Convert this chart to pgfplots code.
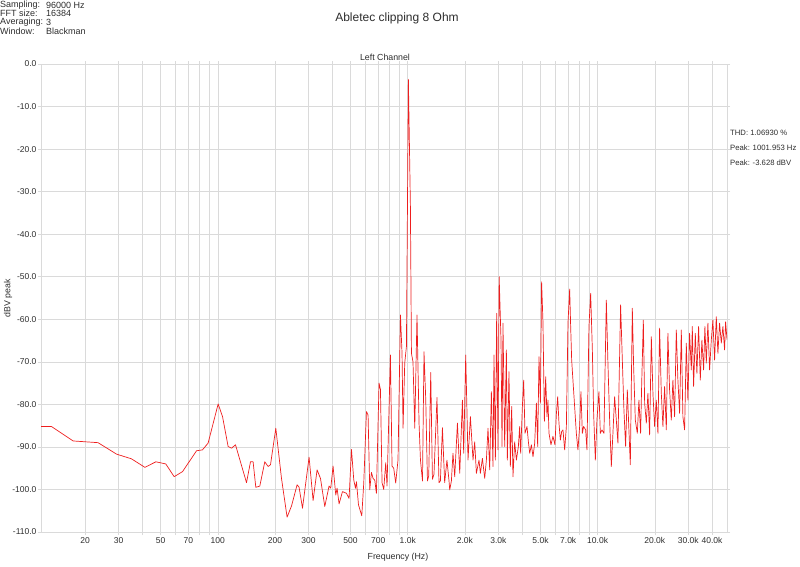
\documentclass[border=0pt]{standalone}
\usepackage{pgfplots}
\pgfplotsset{compat=1.18}
\usepackage{fontspec}
\setmainfont{Liberation Sans}
\definecolor{gridc}{RGB}{218,218,218}
\definecolor{linec}{RGB}{238,30,30}
\definecolor{txt}{RGB}{45,45,45}
\pgfplotstableread{
f db
11.72 -85.2
13.3 -85.2
17.3 -88.6
23.4 -89.0
29.3 -91.7
35.1 -92.8
41.3 -94.8
47.2 -93.5
53.2 -94.0
58.9 -97.0
65.2 -95.8
77.3 -90.9
83.0 -90.7
88.9 -89.1
100.4 -79.9
105.9 -82.9
113.3 -89.9
118.1 -90.3
123.9 -89.5
141.6 -98.4
148.6 -93.5
153.4 -93.5
158.5 -99.5
166.4 -99.2
176.7 -93.5
184.0 -94.6
189.4 -94.2
202.0 -85.6
216.4 -97.4
231.6 -106.5
244.3 -103.9
261.5 -98.9
267.9 -99.5
279.2 -104.4
302.4 -92.4
317.5 -102.6
333.2 -95.4
347.2 -97.4
365.8 -104.0
385.3 -99.2
393.3 -99.7
404.4 -94.5
417.9 -101.3
424.6 -99.7
435.0 -103.4
453.3 -100.5
475.9 -100.9
491.1 -102.1
505.6 -90.6
519.9 -97.8
530.7 -99.7
537.2 -98.2
550.4 -103.6
572.8 -106.2
586.8 -98.5
606.3 -81.7
618.3 -82.5
631.0 -100.1
644.0 -96.0
657.0 -97.4
670.6 -97.8
684.0 -100.9
706.3 -75.0
718.4 -76.5
732.4 -98.4
747.7 -100.0
766.0 -93.7
778.3 -99.2
810.7 -68.4
826.7 -94.5
843.7 -95.0
864.4 -98.5
888.8 -93.1
915.4 -59.0
933.3 -68.0
944.8 -85.6
964.3 -70.3
984.4 -66.4
1008 -3.6
1033 -33.5
1046 -68.0
1066 -70.0
1089 -85.6
1119 -59.0
1147 -84.4
1167 -93.1
1196 -98.0
1218 -67.6
1244 -78.8
1270 -98.0
1290 -96.8
1322 -72.5
1349 -97.6
1375 -96.4
1426 -78.4
1461 -98.4
1486 -98.0
1523 -85.5
1565 -98.4
1609 -93.1
1650 -98.0
1664 -100.1
1698 -98.0
1731 -91.5
1768 -97.0
1827 -84.4
1879 -96.2
1941 -79.0
1971 -91.5
2020 -68.4
2077 -93.1
2138 -82.9
2207 -93.1
2252 -88.8
2299 -96.2
2373 -93.1
2413 -96.2
2473 -92.7
2543 -97.4
2595 -93.1
2647 -85.6
2702 -95.4
2757 -77.0
2811 -94.6
2846 -68.4
2894 -93.1
2940 -58.6
2988 -90.7
3030 -50.0
3099 -64.9
3137 -89.9
3174 -60.9
3240 -89.9
3307 -67.2
3347 -93.1
3413 -72.3
3471 -94.6
3527 -80.5
3583 -97.0
3657 -88.8
3734 -93.1
3825 -89.9
3886 -85.2
3933 -91.5
4015 -80.5
4079 -74.3
4144 -86.8
4246 -85.2
4319 -88.8
4388 -91.5
4479 -89.5
4567 -92.3
4662 -89.1
4759 -79.7
4834 -89.9
4911 -68.8
4995 -79.7
5070 -51.2
5155 -60.9
5243 -84.0
5326 -73.5
5411 -82.9
5477 -79.0
5544 -86.8
5679 -89.5
5818 -87.5
5961 -89.5
6063 -82.3
6160 -78.2
6257 -84.4
6364 -88.4
6465 -86.4
6568 -86.0
6705 -90.7
6845 -85.2
6980 -60.9
7125 -52.9
7211 -61.7
7300 -69.6
7413 -74.3
7567 -80.5
7725 -86.8
7876 -90.7
8040 -85.2
8168 -77.0
8308 -86.8
8439 -85.2
8647 -86.0
8785 -90.7
9001 -61.7
9189 -53.9
9379 -67.2
9526 -82.1
9726 -93.1
9915 -83.7
10158 -77.0
10333 -86.8
10535 -86.0
10795 -86.8
11111 -55.5
11329 -70.3
11567 -83.7
11806 -94.6
12037 -86.8
12288 -78.2
12543 -83.7
12788 -89.1
13212 -56.6
13490 -69.6
13753 -81.3
14041 -89.9
14332 -76.6
14612 -86.0
14863 -94.2
15228 -57.4
15472 -71.1
15792 -83.7
16180 -86.8
16500 -79.0
16841 -86.8
17047 -75.8
17403 -60.2
17682 -79.7
18048 -84.4
18401 -77.4
18786 -87.2
19176 -64.1
19554 -77.4
19953 -85.2
20366 -79.0
20768 -86.8
21199 -62.1
21642 -77.4
22066 -85.2
22523 -75.8
22994 -86.0
23442 -63.3
23927 -76.6
24428 -83.7
24905 -74.3
25426 -82.9
25955 -62.5
26462 -74.3
27017 -82.1
27577 -62.5
28117 -82.9
28704 -86.0
29300 -65.6
29876 -79.0
30497 -63.3
31134 -71.9
31510 -61.7
32015 -75.8
32680 -63.3
33317 -72.7
34014 -61.7
34720 -74.3
35400 -64.9
36141 -71.9
36713 -61.7
37344 -70.3
38074 -60.9
38867 -71.9
39676 -64.9
40450 -60.2
41295 -69.6
42150 -59.4
42985 -68.0
43874 -60.9
44791 -65.6
45667 -61.7
46614 -67.2
47185 -60.6
48000 -64.8
}\spectrum
\begin{document}
\begin{tikzpicture}[x=1pt,y=1pt]
\begin{axis}[at={(0,0)}, anchor=south west, scale only axis,
  width=686pt, height=468pt,
  xmode=log, log basis x=10,
  xmin=11.72, xmax=48000, ymin=-110, ymax=0,
  xtick={20,30,50,70,100,200,300,500,700,1000,2000,3000,5000,7000,10000,20000,30000,40000},
  xticklabels={20,30,50,70,100,200,300,500,700,1.0k,2.0k,3.0k,5.0k,7.0k,10.0k,20.0k,30.0k,40.0k},
  minor xtick={40,60,80,90,400,600,800,900,4000,6000,8000,9000},
  ytick={-110,-100,-90,-80,-70,-60,-50,-40,-30,-20,-10,0},
  yticklabels={-110.0,-100.0,-90.0,-80.0,-70.0,-60.0,-50.0,-40.0,-30.0,-20.0,-10.0,0.0},
  grid=both,
  major grid style={gridc, line width=0.6pt},
  minor grid style={gridc, line width=0.6pt},
  axis line style={gridc, line width=0.6pt},
  tick style={gridc, line width=0.6pt},
  tick align=outside, major tick length=3pt, minor tick length=3pt,
  ticklabel style={font=\fontsize{8.5}{10}\selectfont, text=txt},
  xticklabel style={yshift=1pt},
  yticklabel style={xshift=2pt},
  clip=true,
]
\addplot[linec, line width=0.7pt, line join=round, mark=none] table[x=f, y=db] {\spectrum};
\end{axis}
\node[font=\fontsize{12}{14}\selectfont, text=txt] at (356,514) {Abletec clipping 8 Ohm};
\node[font=\fontsize{8.8}{10}\selectfont, text=txt] at (344,475) {Left Channel};
\begin{scope}[every node/.style={font=\fontsize{9}{10}\selectfont, text=txt, anchor=west, inner sep=0pt}]
\node at (-41,527) {Sampling:};  \node at (5,527) {96000 Hz};
\node at (-41,518.3) {FFT size:};  \node at (5,518.3) {16384};
\node at (-41,509.6) {Averaging:}; \node at (5,509.6) {3};
\node at (-41,500.9) {Window:};    \node at (5,500.9) {Blackman};
\end{scope}
\begin{scope}[every node/.style={font=\fontsize{7.7}{9}\selectfont, text=txt, anchor=west, inner sep=0pt}]
\node at (689,399) {THD: 1.06930 \%};
\node at (689,384) {Peak: 1001.953 Hz};
\node at (689,369) {Peak: -3.628 dBV};
\end{scope}
\node[font=\fontsize{8.8}{10}\selectfont, text=txt, rotate=90] at (-33,234) {dBV peak};
\node[font=\fontsize{8.8}{10}\selectfont, text=txt] at (357,-25) {Frequency (Hz)};
\pgfresetboundingbox
\useasboundingbox (-41,-34) rectangle (759,532);
\end{tikzpicture}
\end{document}
